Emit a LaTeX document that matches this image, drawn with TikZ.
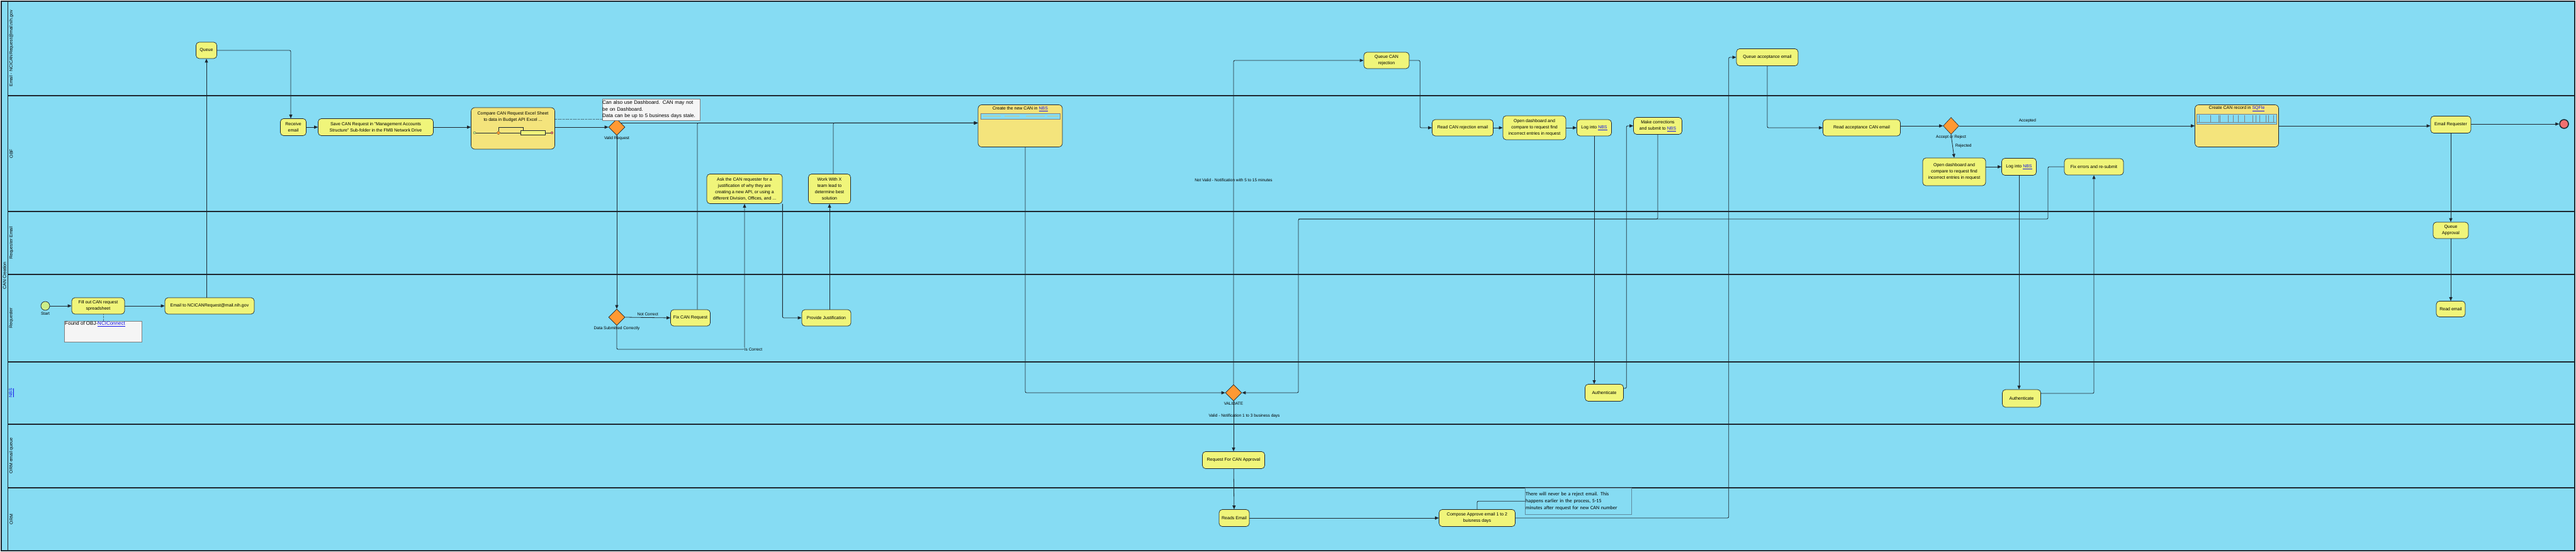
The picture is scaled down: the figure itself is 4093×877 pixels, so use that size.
\documentclass[tikz,border=0pt]{standalone}
\usepackage{fontspec}
\setmainfont{Liberation Sans}
\newfontfamily\notefont{Carlito}
\usetikzlibrary{positioning,shapes.geometric,arrows.meta}
\definecolor{lanec}{RGB}{134,220,243}
\definecolor{taskc}{RGB}{240,245,122}
\definecolor{subc}{RGB}{244,228,124}
\definecolor{gatec}{RGB}{255,153,51}
\definecolor{linec}{RGB}{30,40,48}
\definecolor{startc}{RGB}{204,238,136}
\definecolor{endc}{RGB}{240,112,112}
\definecolor{notec}{RGB}{245,245,245}
\definecolor{notebd}{RGB}{96,140,160}
\definecolor{linkc}{RGB}{20,20,230}
\newcommand{\lnk}[1]{\textcolor{linkc}{\underline{#1}}}

\begin{document}
\begin{tikzpicture}[x=1pt,y=-1pt]
\tikzstyle{task}=[draw=linec,fill=taskc,rounded corners=5pt,align=center,inner sep=1pt,line width=0.7pt,font=\fontsize{7}{10}\selectfont]
\tikzstyle{sub}=[draw=linec,fill=subc,rounded corners=6pt,inner sep=0pt,line width=0.7pt]
\tikzstyle{gate}=[diamond,draw=linec,fill=gatec,minimum width=26,minimum height=26,inner sep=0pt,line width=0.6pt]
\tikzstyle{lbl}=[font=\fontsize{6.5}{8}\selectfont,inner sep=1pt]
\tikzstyle{flow}=[draw=linec,line width=0.8pt,rounded corners=2pt,-{Triangle[length=6pt,width=5pt]}]
\tikzstyle{link}=[draw=linec,line width=0.8pt,rounded corners=2pt]
\tikzstyle{lane}=[font=\fontsize{7}{9}\selectfont,rotate=90,inner sep=1pt]
\tikzstyle{note}=[draw=gray,fill=notec,anchor=north west,inner sep=0pt]
\useasboundingbox (0,0) rectangle (4093,877);
\fill[lanec] (2,2) rectangle (4091,875);
\draw[linec,line width=1.2pt] (2,2) rectangle (4091,875);
\draw[linec,line width=1pt] (12,2) -- (12,875);
\foreach \y in {152,336,436,575,674,775}
  \draw[linec,line width=1.1pt] (12,\y) -- (4091,\y);
\node[lane] (pool) at (7,438) {CAN Creation};
\node[lane] (lmail) at (18,77) {Email - NCICANRequest@mail.nih.gov};
\node[lane] (lobf) at (18,244) {OBF};
\node[lane] (lreqm) at (18,386) {Requester Email};
\node[lane] (lreq) at (18,505) {Requester};
\node[lane] (lnbs) at (18,624) {\lnk{NBS}};
\node[lane] (lormq) at (18,724) {ORM email queue};
\node[lane] (lorm) at (18,825) {ORM};

\node[circle,draw=linec,fill=startc,minimum size=14,inner sep=0,line width=0.7pt] (start) at (72,486) {};
\node[lbl,below=1pt of start] {Start};
\node[task,minimum width=84,minimum height=26] (fill) at (156,486) {Fill out CAN request\\spreadsheet};
\node[note,minimum width=123,minimum height=33] (found) at (102,510) {};
\node[anchor=north west,inner sep=1pt,font=\fontsize{8}{10}\selectfont] at (found.north west) {Found of OBJ-\lnk{NCIConnect}};
\node[task,minimum width=142,minimum height=26] (email) at (333,486) {Email to NCICANRequest@mail.nih.gov};
\node[task,minimum width=33,minimum height=26] (queue) at (328,80) {Queue};
\node[task,minimum width=41,minimum height=27] (recv) at (466,202) {Receive\\email};
\node[task,minimum width=183,minimum height=27] (save) at (597,202) {Save CAN Request in "Management Accounts\\Structure" Sub-folder in the FMB Network Drive};
\node[sub,minimum width=133,minimum height=66] (compare) at (815,204) {};
\node[lbl,align=center,font=\fontsize{7}{10}\selectfont] at (815,186) {Compare CAN Request Excel Sheet\\to data in Budget API Excel ...};
\node[circle,draw=linec,fill=startc,minimum size=4,inner sep=0,line width=0.2pt] (ms) at (754,211) {};
\node[diamond,draw=linec,fill=gatec,minimum size=6,inner sep=0,line width=0.2pt] (mg) at (792,211) {};
\node[draw=linec,fill=taskc,minimum width=39,minimum height=7,inner sep=0,line width=0.2pt] (mt) at (847,211) {};
\node[circle,draw=linec,fill=endc,minimum size=4,inner sep=0,line width=0.2pt] (me) at (877,211) {};
\draw[linec,line width=0.3pt] (ms) -- (mg) -- (mt) -- (me);
\draw[linec,line width=0.3pt] (mg.north) |- (831,202) -- (mt.north -| 831,0);
\node[gate] (vr) at (980,202) {};
\node[lbl,below=0pt of vr] {Valid Request};
\node[note,text width=155,minimum height=34,font=\fontsize{8}{10.5}\selectfont,align=left] (dash) at (957,157) {Can also use Dashboard. CAN may not\\be on Dashboard.\\Data can be up to 5 business days stale.};
\node[sub,minimum width=134,minimum height=67] (create) at (1621,200) {};
\node[font=\fontsize{7}{9}\selectfont,inner sep=0] at (1621,173) {Create the new CAN in \lnk{NBS}};
\node[draw=gray,fill=lanec,minimum width=126,minimum height=9,inner sep=0] (strip) at (1621,184.5) {};
\foreach \a/\b in {1562/1590,1596/1620,1630/1660,1664/1682}
  \draw[subc!70!gray,line width=0.8pt] (\a,184.5) -- (\b,184.5);
\node[task,minimum width=120,minimum height=47] (ask) at (1183,300) {Ask the CAN requester for a\\justification of why they are\\creating a new API, or using a\\different Division, Offices, and ...};
\node[task,minimum width=67,minimum height=47] (work) at (1318,300) {Work With X\\team lead to\\determine best\\solution};
\node[gate] (dsc) at (980,504) {};
\node[lbl,below=0pt of dsc] {Data Submitted Correctly};
\node[task,minimum width=63,minimum height=26] (fix) at (1097,505) {Fix CAN Request};
\node[task,minimum width=78,minimum height=26] (prov) at (1313,505) {Provide Justification};
\node[gate] (validate) at (1960,624) {};
\node[lbl,below=1pt of validate] {VALIDATE};
\node[task,minimum width=72,minimum height=26] (qrej) at (2203,96) {Queue CAN\\rejection};
\node[task,minimum width=97,minimum height=26] (readrej) at (2324,203) {Read CAN rejection email};
\node[task,minimum width=100,minimum height=38] (open1) at (2438,203) {Open dashboard and\\compare to request find\\incorrect entries in request};
\node[task,minimum width=55,minimum height=26] (log1) at (2533,203) {Log into \lnk{NBS}};
\node[task,minimum width=77,minimum height=27] (make) at (2634,200) {Make corrections\\and submit to \lnk{NBS}};
\node[task,minimum width=61,minimum height=27] (auth1) at (2549,624) {Authenticate};
\node[task,minimum width=99,minimum height=27] (reqapp) at (1960,731) {Request For CAN Approval};
\node[task,minimum width=48,minimum height=27] (reads) at (1961,823) {Reads Email};
\node[task,minimum width=121,minimum height=27] (compose) at (2347,823) {Compose Approve email 1 to 2\\buisness days};
\node[draw=notebd,anchor=north west,text width=167,minimum height=42,inner sep=1pt,align=left,font=\notefont\fontsize{8}{11}\selectfont] (never) at (2423,775) {There will never be a reject email. This\\happens earlier in the process, 5-15\\minutes after request for new CAN number};
\node[task,minimum width=98,minimum height=27] (qacc) at (2808,91) {Queue acceptance email};
\node[task,minimum width=123,minimum height=26] (readacc) at (2958,203) {Read acceptance CAN email};
\node[gate,minimum width=25,minimum height=27] (ar) at (3100,200) {};
\node[lbl,below=0pt of ar,fill=lanec] {Accept or Reject};
\node[task,minimum width=100,minimum height=44] (open2) at (3105,273) {Open dashboard and\\compare to request find\\incorrect entries in request};
\node[task,minimum width=55,minimum height=27] (log2) at (3208,265) {Log into \lnk{NBS}};
\node[task,minimum width=94,minimum height=26] (fixerr) at (3327,265) {Fix errors and re-submit};
\node[task,minimum width=61,minimum height=28] (auth2) at (3212,633) {Authenticate};
\node[sub,minimum width=133,minimum height=67] (createrec) at (3554,200) {};
\node[font=\fontsize{7}{9}\selectfont,inner sep=0] at (3554,173) {Create CAN record in \lnk{SQFle}};
\node[draw=gray,fill=lanec,minimum width=127,minimum height=16,inner sep=0] (strip2) at (3554,189) {};
\foreach \x in {3494,3512,3525,3527,3540,3548,3556,3566,3579,3584,3590,3600,3604,3612}
  \draw[gray,line width=0.3pt] (\x,183) -- (\x,195);
\draw[gray,line width=0.3pt] (3491,194) -- (3616,194);
\node[task,minimum width=64,minimum height=27] (emailreq) at (3894,198) {Email Requester};
\node[circle,draw=linec,fill=endc,minimum size=14,inner sep=0,line width=1.5pt] (end) at (4074,197) {};
\node[task,minimum width=56,minimum height=26] (qapp) at (3894,366) {Queue\\Approval};
\node[task,minimum width=46,minimum height=25] (readem) at (3894,491) {Read email};

\draw[flow] (start) -- (fill);
\draw[flow] (fill) -- (email);
\draw[dotted,linec] ([xshift=8pt]fill.south) -- ([xshift=8pt]fill.south |- found.north);
\draw[flow] (email.north -| queue.south) -- (queue.south);
\draw[flow] (queue.east) -| ([xshift=-4pt]recv.north);
\draw[flow] (recv) -- (save);
\draw[flow] (save.east) -- (save.east -| compare.west);
\draw[flow] (vr.west -| compare.east) -- (vr.west);
\draw[dotted,linec] (compare.east |- 0,189) -- (dash.west |- 0,189);
\draw[flow] (vr.north east) -- (vr.north east -| create.west);
\draw[flow] ([xshift=11pt]fix.north) |- (vr.north east -| create.west);
\draw[flow] ([xshift=6pt]work.north) |- (vr.north east -| create.west);
\draw[flow] (vr.south) -- (dsc.north);
\draw[flow] (dsc.east) -- node[lbl,above=2pt] {Not Correct} (fix.west);
\coordinate (iscorr) at (ask.south |- 0,555);
\draw[flow] (dsc.south) |- (iscorr) -- (ask.south);
\node[lbl,fill=lanec] at (1197,555) {Is Correct};
\draw[flow] (ask.south east) |- (prov.west);
\draw[flow] (prov.north -| work.south) -- (work.south);
\draw[flow] ([xshift=8pt]create.south) |- (validate.west);
\draw[flow] (validate.north) |- node[lbl,pos=0.315] {Not Valid - Notification with 5 to 15 minutes} (qrej.west);
\draw[flow] (validate.south) -- node[lbl,pos=0.29,xshift=17pt] {Valid - Notification 1 to 3 business days} (reqapp.north);
\draw[flow] (reqapp) -- (reads);
\draw[flow] (reads) -- (compose);
\draw[link] (compose.north) |- (never.west);
\draw[flow] (compose.east) -| ([xshift=-12pt]qacc.west) -- (qacc.west);
\draw[flow] (qrej.east) -| ([xshift=-19pt]readrej.west) -- (readrej.west);
\draw[flow] (readrej) -- (open1);
\draw[flow] (open1) -- (log1);
\draw[flow] (log1.south) -- (log1.south |- auth1.north);
\draw[flow] ([yshift=7pt]auth1.east) -| ([xshift=-11pt]make.west) -- (make.west);
\coordinate (jn) at (2063,348);
\coordinate (fxc) at (3254,348);
\draw[flow] (make.south) |- (jn) |- (validate.east);
\draw[link] (fixerr.west) -| (fxc) -- (jn);
\draw[flow] (qacc.south) |- (readacc.west);
\draw[flow] (readacc.east |- ar.west) -- (ar.west);
\draw[flow] (ar.east) -- node[lbl,above=4pt,pos=0.29] {Accepted} (createrec.west);
\draw[flow] (ar.south) -- node[lbl,right=3pt,pos=0.5] {Rejected} (open2.north);
\draw[flow] (open2.east |- log2.west) -- (log2.west);
\draw[flow] (log2.south) -- (log2.south |- auth2.north);
\draw[flow] ([yshift=8pt]auth2.east) -| (fixerr.south);
\draw[flow] (createrec.east) -- (createrec.east -| emailreq.west);
\draw[flow] (emailreq.east |- end.west) -- (end.west);
\draw[flow] (emailreq) -- (qapp);
\draw[flow] (qapp) -- (readem);
\end{tikzpicture}
\end{document}
